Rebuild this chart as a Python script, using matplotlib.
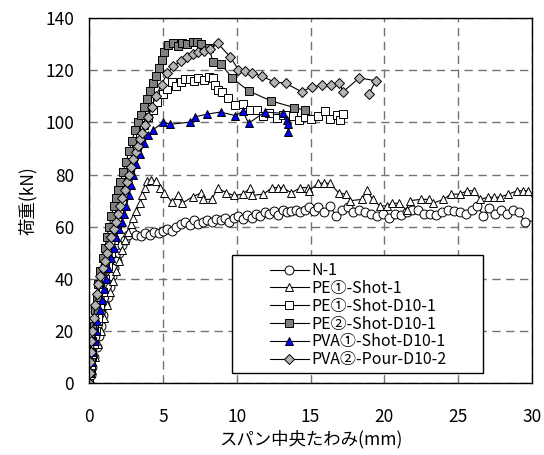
import matplotlib
matplotlib.use("Agg")
import matplotlib.pyplot as plt
from matplotlib.patches import Rectangle

plt.rcParams["font.family"] = ["Noto Sans CJK JP", "DejaVu Sans"]

# ---------------------------------------------------------------------------
# Data (x = mid-span deflection mm, y = load kN)
# ---------------------------------------------------------------------------
N1_X = [0, 0.1, 0.2, 0.35, 0.5, 0.65, 0.8, 0.95, 1.1, 1.25, 1.4, 1.55, 1.7, 1.85,
        2.0, 2.2, 2.4, 2.6, 2.9, 3.2, 3.5, 3.8, 4.1, 4.4, 4.7, 5.0, 5.3, 5.6, 5.9,
        6.2, 6.5, 6.8, 7.1, 7.4, 7.7, 8.0, 8.3, 8.6, 8.9, 9.2, 9.5, 9.8, 10.1,
        10.4, 10.7, 11.0, 11.3, 11.6, 11.9, 12.2, 12.5, 12.8, 13.1, 13.4, 13.7,
        14.0, 14.3, 14.6, 14.9, 15.2, 15.5, 15.9, 16.3, 16.7, 17.1, 17.5, 17.9,
        18.3, 18.7, 19.1, 19.5, 19.9, 20.3, 20.7, 21.1, 21.5, 21.9, 22.3, 22.7,
        23.1, 23.5, 23.9, 24.3, 24.7, 25.1, 25.5, 25.9, 26.3, 26.7, 27.1, 27.5,
        27.9, 28.3, 28.7, 29.1, 29.5, 31.0]
N1_Y = [0, 3, 6, 10, 14, 18, 22, 26, 30, 33, 37, 41, 44, 47,
        50, 53, 55, 57, 58, 57, 56.5, 57.5, 57, 58, 57.5, 58.5, 59, 58.5, 60,
        61, 62, 60.5, 62.5, 61, 62, 62.5, 62, 63, 62.5, 63.5, 62, 63.5, 64,
        63, 64.5, 63.5, 65, 64, 65.5, 65, 66, 64.5, 66.5, 65.5, 66,
        66.5, 65.5, 66.5, 67.5, 66, 67.5, 65.6, 68, 64.3, 66.5, 67.5, 65.6,
        66.5, 65.6, 65, 64, 65, 63.5, 65, 64.5, 65.5, 66.5, 66.5, 65,
        65, 64.5, 65.5, 66.5, 66, 65.5, 65, 66.5, 68, 64.3, 67, 65,
        66.5, 65, 66.5, 65.5, 62, 62.5]

PE1_X = [0, 0.2, 0.4, 0.6, 0.8, 1.0, 1.2, 1.4, 1.6, 1.8, 2.0, 2.2, 2.4, 2.6, 2.8,
         3.0, 3.2, 3.45, 3.6, 3.75, 3.9, 4.2, 4.5, 4.8, 5.1, 5.6, 6.0, 6.3, 7.0,
         7.6, 7.7, 8.3, 8.7, 9.3, 9.8, 10.4, 10.9, 11.0, 11.8, 12.4, 12.8, 13.1,
         13.7, 14.3, 14.8, 14.9, 15.5, 15.9, 16.3, 16.9, 17.4, 17.7, 18.5, 18.8,
         19.2, 19.7, 20.2, 20.5, 21.0, 21.5, 21.7, 22.5, 23.0, 23.3, 24.0, 24.5,
         25.1, 25.6, 26.1, 26.5, 27.0, 27.4, 27.8, 28.4, 29.0, 29.4, 29.7, 31.0]
PE1_Y = [0, 5, 10, 15, 20, 25, 30, 35, 39, 43, 47, 51, 55, 58, 61,
         63.5, 66, 69, 72, 75, 77.5, 78, 77.5, 74.8, 73, 69.5, 72, 69, 71.5,
         73, 70.5, 70.5, 74.8, 73, 72, 72.5, 74.8, 72, 72.5, 75, 75, 75,
         73, 75, 75, 73.8, 76.7, 76.7, 76.7, 73, 72.5, 70, 70.5, 74,
         70.5, 68, 68, 69, 69, 66.5, 70, 70.5, 70.5, 69, 70.5, 72.5,
         72.5, 73.8, 73.8, 70.5, 71.3, 71.3, 71.3, 72.5, 73.8, 73.8, 73.8, 64]

PE1D_X = [0, 0.1, 0.2, 0.3, 0.45, 0.6, 0.75, 0.9, 1.05, 1.25, 1.45, 1.65, 1.85,
          2.05, 2.25, 2.45, 2.7, 2.95, 3.2, 3.45, 3.7, 4.0, 4.3, 4.6, 5.0, 5.3,
          5.6, 5.9, 6.2, 6.5, 6.8, 7.1, 7.4, 7.8, 8.1, 8.4, 8.5, 8.7, 9.0, 9.4,
          9.9, 10.4, 10.9, 11.4, 11.8, 12.2, 12.7, 13.1, 13.5, 13.8, 14.2, 14.6,
          15.0, 15.5, 16.0, 16.3, 16.8, 17.0, 17.2]
PE1D_Y = [0, 5, 10, 15, 20, 25, 30, 35, 40, 45, 50, 55, 60,
          65, 70, 75, 80, 85, 90, 95, 99, 102, 104.7, 108, 111, 113,
          115.5, 114, 115.5, 116.5, 116.6, 115.8, 117, 116.3, 117.4, 117, 114.5,
          112.4, 111.6, 109.3, 106.6, 107, 104.7, 104.7, 102.5, 103.6, 101.7,
          102.8, 103, 102.6, 101, 102, 101.2, 102.5, 104.3, 101.2, 103, 101,
          103.2]

PE2D_X = [0, 0.05, 0.1, 0.15, 0.2, 0.3, 0.4, 0.5, 0.6, 0.75, 0.9, 1.05, 1.2, 1.35,
          1.5, 1.65, 1.8, 1.95, 2.1, 2.3, 2.5, 2.7, 2.9, 3.1, 3.3, 3.5, 3.7, 3.9,
          4.1, 4.3, 4.5, 4.7, 4.9, 5.1, 5.35, 5.7, 6.0, 6.3, 6.6, 7.0, 7.3, 7.6,
          8.1, 8.4, 8.9, 9.7, 10.8, 12.3, 13.9, 14.6]
PE2D_Y = [0, 4, 8, 12, 16, 22, 28, 33, 38, 43, 48, 52, 56, 60,
          64, 68, 71, 74, 77, 81, 85, 89, 93, 97, 100, 103, 106, 109,
          112, 115, 118, 121, 124, 127, 129.6, 130.3, 129.2, 130.5, 130, 130.7,
          131, 130, 128.5, 123.3, 122.6, 117, 112.1, 108.3, 105.7, 104.7]

PVA1_X = [0, 0.08, 0.17, 0.26, 0.36, 0.46, 0.56, 0.7, 0.84, 0.98, 1.12, 1.3, 1.48,
          1.66, 1.84, 2.02, 2.2, 2.36, 2.52, 2.68, 2.84, 3.0, 3.2, 3.45, 3.7, 4.0,
          4.3, 5.0, 5.5, 6.8, 7.2, 8.0, 8.9, 9.9, 10.4, 10.8, 11.9, 13.1, 13.4,
          13.5, 13.5]
PVA1_Y = [0, 4, 8, 12, 16, 20, 24, 28, 32, 36, 40, 44, 48,
          52, 56, 59, 62, 65, 68, 72, 76, 80, 84, 88, 92, 95,
          97, 100.1, 99.3, 100.1, 102.2, 103.2, 104, 102.6, 104.3, 99.7, 104,
          103.5, 101, 99.3, 96.4]

PVA2_X = [0, 0.03, 0.06, 0.1, 0.15, 0.22, 0.3, 0.4, 0.5, 0.62, 0.75, 0.9, 1.05,
          1.2, 1.35, 1.5, 1.65, 1.8, 1.95, 2.1, 2.25, 2.4, 2.55, 2.7, 2.85, 3.0,
          3.15, 3.3, 3.45, 3.6, 3.8, 4.0, 4.25, 4.5, 4.9, 5.3, 5.7, 6.2, 6.6, 7.0,
          7.4, 7.8, 8.2, 8.7, 9.55, 10.1, 10.55, 11.0, 11.7, 12.5, 13.3, 14.4,
          15.1, 15.75, 16.4, 16.95, 17.2, 18.3, 19.4, 18.96]
PVA2_Y = [0, 4, 8, 12, 16, 20, 25, 30, 34, 38, 41, 44, 47,
          50, 53, 56, 59, 62, 65, 68, 71, 74, 77, 80, 83, 86,
          88.5, 91, 93.5, 96, 99, 102, 106, 110, 114.5, 119, 121.5, 123.5, 125,
          126.2, 127, 127.5, 128, 130.4, 125.2, 120.3, 119.8, 119, 117.8, 115.6,
          115, 111.8, 113.7, 114.3, 114.5, 115.2, 111.8, 117.1, 116, 110.9]

SERIES = [
    ("N-1",                N1_X,   N1_Y,   "o", "white"),
    ("PE①-Shot-1",         PE1_X,  PE1_Y,  "^", "white"),
    ("PE①-Shot-D10-1",     PE1D_X, PE1D_Y, "s", "white"),
    ("PE②-Shot-D10-1",     PE2D_X, PE2D_Y, "s", "#808080"),
    ("PVA①-Shot-D10-1",    PVA1_X, PVA1_Y, "^", "#0000ff"),
    ("PVA②-Pour-D10-2",    PVA2_X, PVA2_Y, "D", "#b4b4b4"),
]

X_TICKS = [0, 5, 10, 15, 20, 25, 30]
Y_TICKS = [0, 20, 40, 60, 80, 100, 120, 140]

# ---------------------------------------------------------------------------
# Plot
# ---------------------------------------------------------------------------
fig = plt.figure(figsize=(5.44, 4.55), dpi=100)
ax = fig.add_axes([0.164, 0.158, 0.814, 0.802])

for label, xs, ys, mk, fc in SERIES:
    ms = 5.4 if mk == "D" else 6.4
    ax.plot(xs, ys, color="black", lw=0.8, marker=mk, markersize=ms,
            markerfacecolor=fc, markeredgecolor="black", markeredgewidth=0.7,
            label=label)

ax.set_xlim(0, 30)
ax.set_ylim(0, 140)
ax.set_xticks(X_TICKS)
ax.set_yticks(Y_TICKS)
ax.grid(True, color="0.45", linestyle=(0, (6, 4)), linewidth=1.0)
ax.set_axisbelow(True)
ax.tick_params(axis="both", length=0, labelsize=12.5)
ax.tick_params(axis="x", pad=18)
ax.tick_params(axis="y", pad=11)
for sp in ax.spines.values():
    sp.set_linewidth(1.0)
    sp.set_color("black")

ax.set_xlabel("スパン中央たわみ(mm)", fontsize=12.5, labelpad=3)
ax.set_ylabel("荷重(kN)", fontsize=12.5, labelpad=6)

# legend box is wider than its contents in the original, so draw it by hand
ax.add_patch(Rectangle((0.323, 0.027), 0.566, 0.324, transform=ax.transAxes,
                       facecolor="white", edgecolor="black", linewidth=1.0,
                       zorder=4.9))
leg = ax.legend(loc="center left", bbox_to_anchor=(0.409, 0.186), fontsize=11.5,
                frameon=False, handlelength=2.4, labelspacing=0.05,
                borderpad=0, handletextpad=0.2, borderaxespad=0)

fig.savefig("out.png", dpi=100)
